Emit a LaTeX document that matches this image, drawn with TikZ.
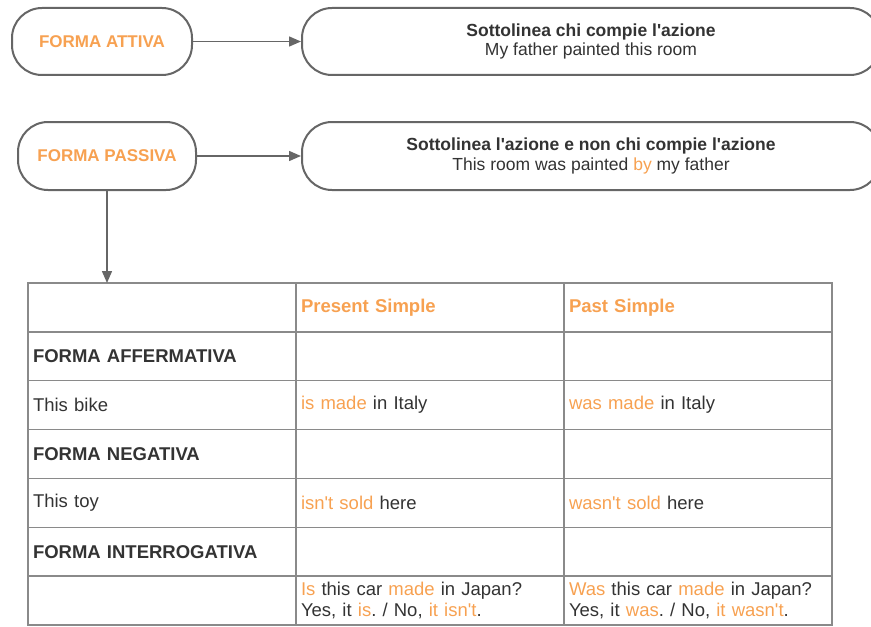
\documentclass[tikz,border=0pt]{standalone}
\usepackage{fontspec}
\setmainfont{Liberation Sans}
\usepackage{xcolor}
\usetikzlibrary{arrows.meta,positioning}
\definecolor{GramOrange}{HTML}{F7A151}
\definecolor{GramText}{HTML}{333333}
\definecolor{GramLine}{HTML}{666666}
\definecolor{GramGrid}{HTML}{8A8A8A}
\newcommand{\ora}[1]{\textcolor{GramOrange}{#1}}
\newcommand{\ap}{\textquotesingle}
\frenchspacing
\tikzset{
  gbox/.style={draw=GramLine,rounded corners=15pt,fill=white,
    line width=1pt,align=center,text=GramText,font=\fontsize{8.75}{9.6}\selectfont},
  formbox/.style={gbox,minimum height=33.5pt,text=GramOrange,
    font=\fontsize{8.5}{10}\selectfont\bfseries},
  notebox/.style={gbox,minimum width=289pt,minimum height=33.5pt},
  garrow/.style={-{Triangle[length=6pt,width=5pt]},line width=0.75pt,GramLine},
  cell/.style={draw=GramGrid,line width=0.75pt,outer sep=0pt,anchor=north west,
    minimum height=24.43pt,text width=129pt,inner xsep=2.5pt,inner ysep=0pt,
    align=left,text=GramText,font=\fontsize{9.25}{10.5}\selectfont},
  headcell/.style={cell,text=GramOrange,font=\fontsize{9.25}{10.5}\selectfont\bfseries},
  formcell/.style={cell,font=\fontsize{9.25}{10.5}\selectfont\bfseries}
}

\begin{document}
\begin{tikzpicture}[x=0.5pt,y=-0.5pt]
  \useasboundingbox (0,0) rectangle (871,626);

  \node[formbox,minimum width=90pt] (attiva) at (102,41.5) {FORMA ATTIVA};
  \node[notebox] (attivanote) at (591,41.5)
    {\textbf{Sottolinea chi compie l\ap azione}\\My father painted this room};
  \node[formbox,minimum width=89pt,minimum height=34pt] (passiva) at (107,156) {FORMA PASSIVA};
  \node[notebox,minimum height=34pt] (passivanote) at (591,156)
    {\textbf{Sottolinea l\ap azione e non chi compie l\ap azione}\\This room was painted \ora{by} my father};
  \draw[garrow] (attiva)--(attivanote);
  \draw[garrow] (passiva)--(passivanote);

  \node[cell] (corner) at (28,283) {};
  \node[headcell,right=0pt of corner] (present) {Present Simple};
  \node[headcell,right=0pt of present] (past) {Past Simple};

  \node[formcell,below=0pt of corner] (affirm) {FORMA AFFERMATIVA};
  \node[cell,right=0pt of affirm] (affirmpres) {};
  \node[cell,right=0pt of affirmpres] (affirmpast) {};

  \node[cell,below=0pt of affirm] (bike) {This bike};
  \node[cell,right=0pt of bike] (bikepres) {\ora{is made} in Italy};
  \node[cell,right=0pt of bikepres] (bikepast) {\ora{was made} in Italy};

  \node[formcell,below=0pt of bike] (negat) {FORMA NEGATIVA};
  \node[cell,right=0pt of negat] (negatpres) {};
  \node[cell,right=0pt of negatpres] (negatpast) {};

  \node[cell,below=0pt of negat] (toy) {This toy};
  \node[cell,right=0pt of toy] (toypres) {\ora{isn\ap t sold} here};
  \node[cell,right=0pt of toypres] (toypast) {\ora{wasn\ap t sold} here};

  \node[formcell,below=0pt of toy] (interr) {FORMA INTERROGATIVA};
  \node[cell,right=0pt of interr] (interrpres) {};
  \node[cell,right=0pt of interrpres] (interrpast) {};

  \node[cell,below=0pt of interr] (car) {};
  \node[cell,right=0pt of car] (carpres)
    {\ora{Is} this car \ora{made} in Japan?\\Yes, it \ora{is}. / No, \ora{it isn\ap t}.};
  \node[cell,right=0pt of carpres] (carpast)
    {\ora{Was} this car \ora{made} in Japan?\\Yes, it \ora{was}. / No, \ora{it wasn\ap t}.};

  \draw[garrow] (passiva)--(passiva |- corner.north);
\end{tikzpicture}
\end{document}
